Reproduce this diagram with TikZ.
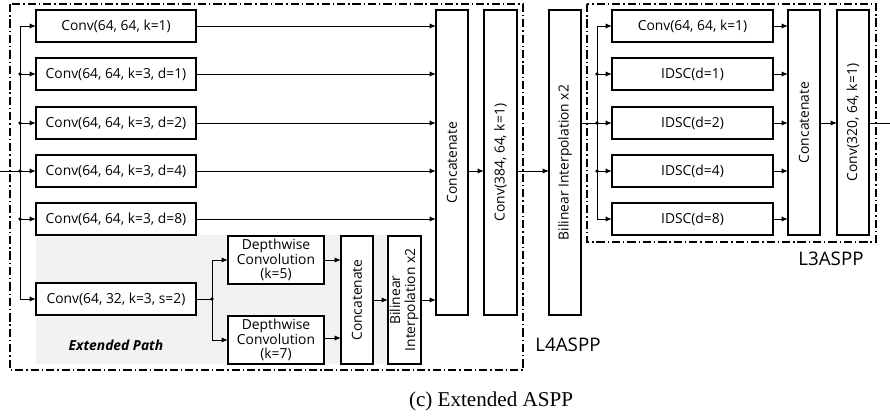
\documentclass[tikz,border=0pt]{standalone}
\usepackage{fontspec}
\setmainfont{Liberation Serif}
\setsansfont{Open Sans}
\usetikzlibrary{arrows.meta,positioning}

\newlength\pxu
\setlength\pxu{0.03cm}

\tikzset{
  blk/.style={draw, line width=1.1pt, fill=white, inner sep=0pt, outer sep=0pt,
    minimum width=160\pxu, minimum height=32\pxu},
  dwblk/.style={blk, minimum width=96\pxu, minimum height=48\pxu},
  tall/.style={draw, line width=1.1pt, fill=white, inner sep=0pt, outer sep=0pt,
    minimum width=32\pxu},
  arr/.style={-{Latex[length=5.5pt,width=4.5pt]}, line width=0.8pt},
  jdot/.style={circle, fill, inner sep=0pt, minimum size=3pt},
  groupline/.style={line width=0.9pt, dash pattern=on 7pt off 2.5pt on 1.2pt off 2.5pt},
  grouplabel/.style={font=\sffamily\fontsize{16}{18}\selectfont}
}

\begin{document}
\begin{tikzpicture}[x=\pxu, y=-\pxu, font=\sffamily\fontsize{11.8}{12.4}\selectfont, every node/.style={align=center}]
  \useasboundingbox (0,0) rectangle (890,419);

  % extended path background and group frames
  \fill[gray!10] (36,235) rectangle (422,364);
  \draw[groupline] (10,4) rectangle (523,370);
  \draw[groupline] (587,4) rectangle (876,242);

  % L4ASPP branches
  \node[blk] (c1) at (116,26)  {Conv(64, 64, k=1)};
  \node[blk] (c2) at (116,74)  {Conv(64, 64, k=3, d=1)};
  \node[blk] (c3) at (116,123) {Conv(64, 64, k=3, d=2)};
  \node[blk] (c4) at (116,171) {Conv(64, 64, k=3, d=4)};
  \node[blk] (c5) at (116,219) {Conv(64, 64, k=3, d=8)};
  \node[blk] (c6) at (116,299) {Conv(64, 32, k=3, s=2)};

  \node[dwblk] (dw1) at (276,260) {Depthwise\\Convolution\\(k=5)};
  \node[dwblk] (dw2) at (276,340) {Depthwise\\Convolution\\(k=7)};
  \node[tall, minimum height=128\pxu] (cat2) at (357,300) {\rotatebox{90}{Concatenate}};
  \node[tall, minimum width=33\pxu, minimum height=128\pxu] (bi2) at (404.5,300)
    {\rotatebox{90}{\begin{tabular}{@{}c@{}}Bilinear\\Interpolation x2\end{tabular}}};

  \node[tall, minimum height=305\pxu] (cat) at (452,162.5) {\rotatebox{90}{Concatenate}};
  \node[tall, minimum width=33\pxu, minimum height=305\pxu] (cv384) at (500.5,162.5) {\rotatebox{90}{Conv(384, 64, k=1)}};
  \node[tall, minimum height=305\pxu] (bil) at (565,162.5) {\rotatebox{90}{Bilinear Interpolation x2}};

  % L3ASPP branches
  \node[blk, minimum width=161\pxu] (r1) at (692.5,26)  {Conv(64, 64, k=1)};
  \node[blk, minimum width=161\pxu] (r2) at (692.5,74)  {IDSC(d=1)};
  \node[blk, minimum width=161\pxu] (r3) at (692.5,123) {IDSC(d=2)};
  \node[blk, minimum width=161\pxu] (r4) at (692.5,171) {IDSC(d=4)};
  \node[blk, minimum width=161\pxu] (r5) at (692.5,219) {IDSC(d=8)};
  \node[tall, minimum height=225\pxu] (rcat) at (804,122.5) {\rotatebox{90}{Concatenate}};
  \node[tall, minimum height=225\pxu] (cv320) at (853,122.5) {\rotatebox{90}{Conv(320, 64, k=1)}};

  % labels
  \node[font=\sffamily\bfseries\itshape\fontsize{11.8}{12.4}\selectfont] (ext) at (116,345) {Extended Path};
  \node[grouplabel] (l4) at (568,345) {L4ASPP};
  \node[grouplabel] (l3) at (831,259) {L3ASPP};
  \node[font=\rmfamily\fontsize{18}{20}\selectfont] (cap) at (491,401) {(c) Extended ASPP};

  % left trunk
  \coordinate (in) at (0,171);
  \coordinate (ltr) at (20,171);
  \draw[line width=0.8pt] (in) -- (ltr);
  \draw[arr] (ltr) |- (c1.west);
  \draw[arr] (ltr) |- (c6.west);
  \foreach \n in {c2,c3,c4,c5} {
    \draw[arr] (ltr |- \n.west) -- (\n.west);
    \node[jdot] at (ltr |- \n.west) {};
  }
  \foreach \n in {c1,c2,c3,c4,c5}
    \draw[arr] (\n.east) -- (\n.east -| cat.west);

  % extended path
  \coordinate (sp) at (212,299);
  \draw[line width=0.8pt] (c6.east) -- (sp);
  \draw[arr] (sp) |- (dw1.west);
  \draw[arr] (sp) |- (dw2.west);
  \node[jdot] at (sp) {};
  \draw[arr] (dw1.east) -- (dw1.east -| cat2.west);
  \draw[arr] ([yshift=2\pxu]dw2.east) -- ([yshift=2\pxu]dw2.east -| cat2.west);
  \draw[arr] (cat2.east) -- (bi2.west);
  \draw[arr] (bi2.east) -- (bi2.east -| cat.west);

  \draw[arr] (cat.east |- c4.east) -- (cv384.west |- c4.east);
  \draw[arr] (cv384.east |- c4.east) -- (bil.west |- c4.east);

  % right trunk
  \coordinate (rtr) at (597,123);
  \draw[line width=0.8pt] (bil.east |- r3.west) -- (rtr);
  \draw[arr] (rtr) |- (r1.west);
  \draw[arr] (rtr) |- (r5.west);
  \foreach \n in {r2,r3,r4} {
    \draw[arr] (rtr |- \n.west) -- (\n.west);
    \node[jdot] at (rtr |- \n.west) {};
  }
  \foreach \n in {r1,r2,r3,r4,r5}
    \draw[arr] (\n.east) -- (\n.east -| rcat.west);
  \draw[arr] (rcat.east |- r3.east) -- (cv320.west |- r3.east);
  \coordinate (out) at (890,123);
  \draw[line width=0.8pt] (cv320.east |- r3.east) -- (out);
\end{tikzpicture}
\end{document}
